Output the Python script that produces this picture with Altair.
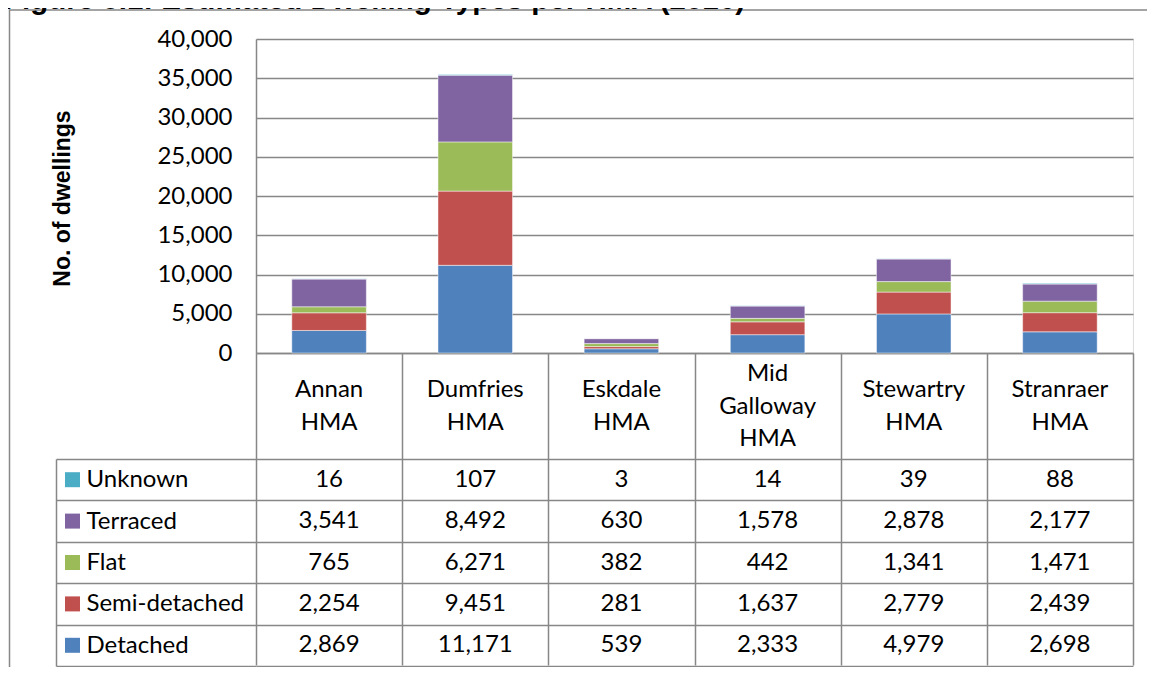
import altair as alt
import pandas as pd

# ---- data ----
categories = ["Annan HMA", "Dumfries HMA", "Eskdale HMA", "Mid Galloway HMA", "Stewartry HMA", "Stranraer HMA"]
series = ["Detached", "Semi-detached", "Flat", "Terraced", "Unknown"]          # stacking order, bottom -> top
table_rows = ["Unknown", "Terraced", "Flat", "Semi-detached", "Detached"]      # table order, top -> bottom
colors = ["#4F81BD", "#C0504D", "#9BBB59", "#8064A2", "#4BACC6"]

detached = [2869, 11171, 539, 2333, 4979, 2698]
semi_detached = [2254, 9451, 281, 1637, 2779, 2439]
flat = [765, 6271, 382, 442, 1341, 1471]
terraced = [3541, 8492, 630, 1578, 2878, 2177]
unknown = [16, 107, 3, 14, 39, 88]

y_ticks = [0, 5000, 10000, 15000, 20000, 25000, 30000, 35000, 40000]
title_text = "Figure 5.1: Estimated Dwelling Types per HMA (2016)"
y_title = "No. of dwellings"

values = {"Detached": detached, "Semi-detached": semi_detached, "Flat": flat,
          "Terraced": terraced, "Unknown": unknown}
rows = []
for s_i, s in enumerate(series):
    for c, v in zip(categories, values[s]):
        rows.append({"cat": c, "series": s, "value": v, "order": s_i})
df = pd.DataFrame(rows)
swatch_df = pd.DataFrame({"series": table_rows})

# category names split into lines, each line with its position relative to the block centre
word_rows = []
for c in categories:
    words = c.split(" ")
    n = len(words)
    for i, w in enumerate(words):
        word_rows.append({"cat": c, "word": w, "pos": i - (n - 1) / 2})
words_df = pd.DataFrame(word_rows)

GRAY = "#878787"
FONT = "Lato"

W, H = 877, 314
color_scale = alt.Scale(domain=series, range=colors)
x_scale = alt.Scale(domain=categories, paddingInner=0, paddingOuter=0)
table_scale = alt.Scale(type="band", domain=table_rows, range=[420, 627], paddingInner=0, paddingOuter=0)
header_scale = alt.Scale(type="linear", domain=[-1, 1], range=[335, 400], nice=False, zero=False)

bars = alt.Chart(df).mark_bar(
    width=alt.RelativeBandSize(0.51), stroke="white", strokeWidth=0.6, strokeOpacity=0.8
).encode(
    x=alt.X("cat:N", sort=categories, scale=x_scale,
            axis=alt.Axis(title=None, orient="bottom", labels=False,
                          domain=True, domainColor=GRAY, domainWidth=1.5,
                          ticks=True, tickBand="extent", tickSize=312,
                          tickColor=GRAY, tickWidth=1.5, grid=False)),
    y=alt.Y("value:Q", stack="zero",
            scale=alt.Scale(domain=[0, 40000], nice=False),
            axis=alt.Axis(title=y_title, orient="left", values=y_ticks,
                          labelExpr="format(datum.value, ',')",
                          labelFont=FONT, labelFontSize=24, labelColor="black",
                          labelPadding=24, ticks=False,
                          domain=True, domainColor=GRAY, domainWidth=1.5,
                          grid=True, gridColor=GRAY, gridWidth=1.5,
                          titleFont="Liberation Sans", titleFontSize=23,
                          titleFontWeight="bold", titleColor="black",
                          titleAngle=-90, titleX=-194, titleY=159,
                          titleAlign="center", titleBaseline="middle")),
    color=alt.Color("series:N", scale=color_scale, legend=None),
    order=alt.Order("order:Q", sort="ascending"),
)

header = alt.Chart(words_df).mark_text(
    font=FONT, fontSize=24, color="black", baseline="middle", align="center"
).encode(
    x=alt.X("cat:N", sort=categories, scale=x_scale),
    y=alt.Y("pos:Q", scale=header_scale, axis=None),
    text="word:N",
)

table_text = alt.Chart(df).mark_text(
    font=FONT, fontSize=24, color="black", baseline="middle", align="center"
).encode(
    x=alt.X("cat:N", sort=categories, scale=x_scale),
    y=alt.Y("series:N", scale=table_scale,
            axis=alt.Axis(title=None, orient="left", domain=False,
                          ticks=True, tickBand="extent", tickSize=200,
                          tickColor=GRAY, tickWidth=1.5,
                          grid=True, gridColor=GRAY, gridWidth=1.5,
                          labels=True, labelAlign="left", labelBaseline="middle",
                          labelPadding=-30, labelFont=FONT, labelFontSize=24,
                          labelColor="black", labelOverlap=False,
                          labelBound=False, labelLimit=0)),
    text=alt.Text("value:Q", format=","),
)

swatches = alt.Chart(swatch_df).mark_square(size=225, opacity=1).encode(
    x=alt.value(-183.5),
    y=alt.Y("series:N", scale=table_scale,
            axis=alt.Axis(title=None, orient="left", offset=200, domain=True,
                          domainColor=GRAY, domainWidth=1.5,
                          ticks=False, labels=False, grid=False)),
    color=alt.Color("series:N", scale=color_scale, legend=None),
)

frame = alt.Chart(alt.Data(values=[{}])).mark_rect(
    fillOpacity=0, stroke=GRAY, strokeWidth=1.5
).encode(
    x=alt.value(-246.5), y=alt.value(-29), x2=alt.value(1200), y2=alt.value(1000)
)

title = alt.Chart(alt.Data(values=[{}])).mark_text(
    font="Liberation Sans", fontSize=29.5, fontWeight="bold", color="black",
    align="left", baseline="alphabetic"
).encode(
    x=alt.value(-252), y=alt.value(-30.5), text=alt.value(title_text)
)

chart = alt.layer(frame, title, bars, header, table_text, swatches).resolve_scale(
    y="independent"
).properties(
    width=W, height=H,
    padding={"left": 248, "top": 31, "right": 14, "bottom": 314},
    autosize=alt.AutoSizeParams(type="none"),
).configure_view(strokeWidth=0).configure(background="white")

chart.save("out.html", embed_options={"renderer": "svg", "actions": False})
